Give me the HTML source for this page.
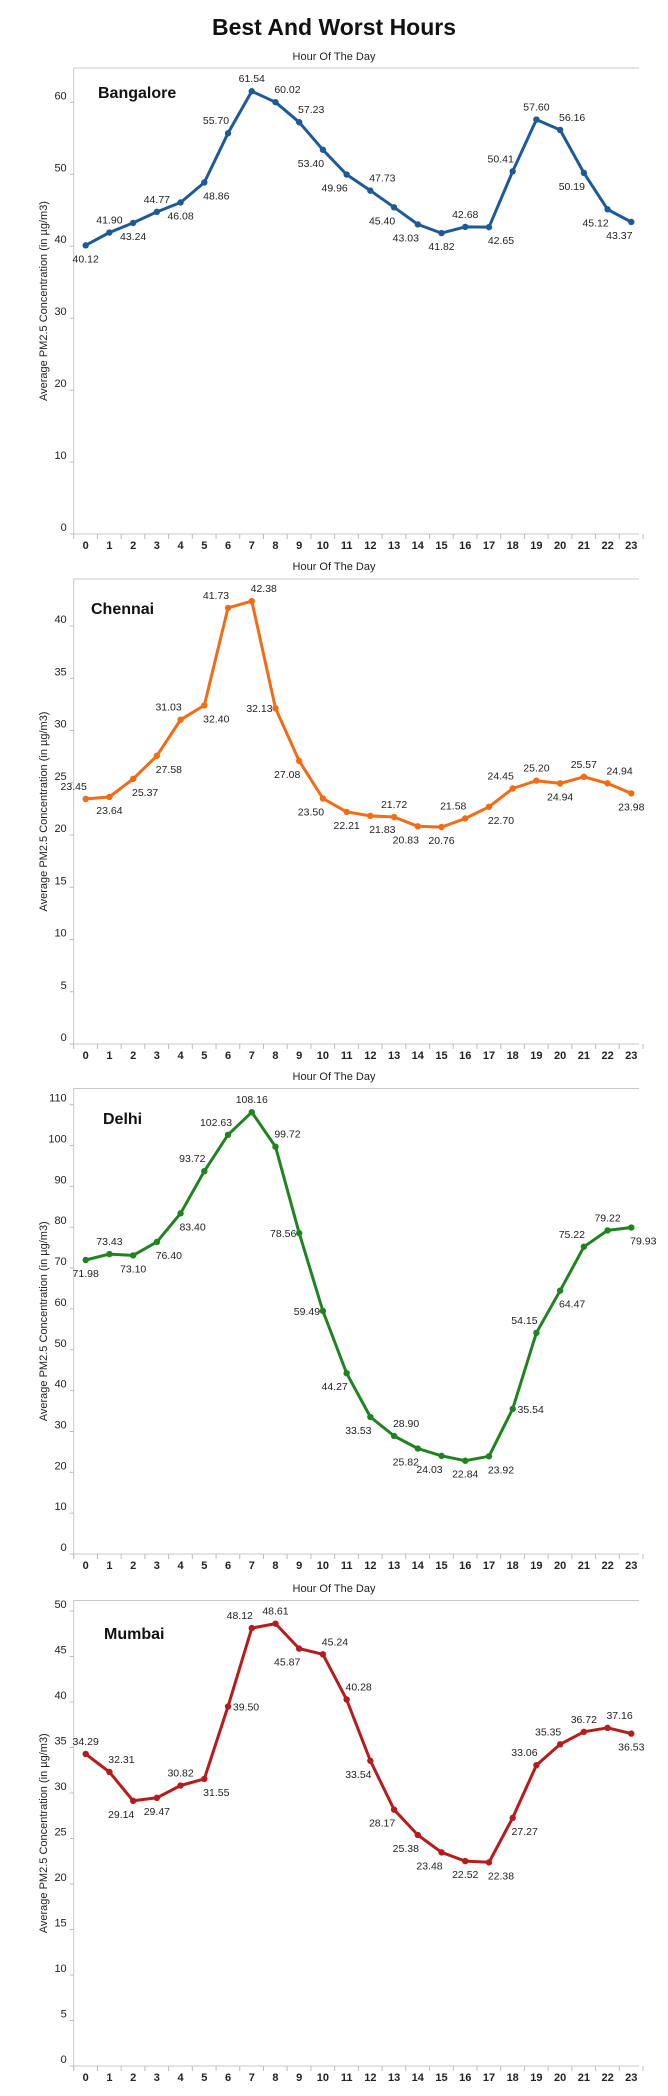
<!DOCTYPE html>
<html><head><meta charset="utf-8"><style>
html,body{margin:0;padding:0;background:#fff;}
svg{display:block;font-family:"Liberation Sans",Arial,sans-serif;}
</style></head><body>
<svg id="root" width="668" height="2096" viewBox="0 0 668 2096" xmlns="http://www.w3.org/2000/svg">
<text x="334" y="35" text-anchor="middle" font-size="23" font-weight="bold" fill="#111">Best And Worst Hours</text>
</svg>
<script>
const hours = ['0','1','2','3','4','5','6','7','8','9','10','11','12','13','14','15','16','17','18','19','20','21','22','23'];
const bangaloreValues = [40.12,41.90,43.24,44.77,46.08,48.86,55.70,61.54,60.02,57.23,53.40,49.96,47.73,45.40,43.03,41.82,42.68,42.65,50.41,57.60,56.16,50.19,45.12,43.37];
const chennaiValues = [23.45,23.64,25.37,27.58,31.03,32.40,41.73,42.38,32.13,27.08,23.50,22.21,21.83,21.72,20.83,20.76,21.58,22.70,24.45,25.20,24.94,25.57,24.94,23.98];
const delhiValues = [71.98,73.43,73.10,76.40,83.40,93.72,102.63,108.16,99.72,78.56,59.49,44.27,33.53,28.90,25.82,24.03,22.84,23.92,35.54,54.15,64.47,75.22,79.22,79.93];
const mumbaiValues = [34.29,32.31,29.14,29.47,30.82,31.55,39.50,48.12,48.61,45.87,45.24,40.28,33.54,28.17,25.38,23.48,22.52,22.38,27.27,33.06,35.35,36.72,37.16,36.53];
const bangaloreTicks = [0,10,20,30,40,50,60];
const chennaiTicks = [0,5,10,15,20,25,30,35,40];
const delhiTicks = [0,10,20,30,40,50,60,70,80,90,100,110];
const mumbaiTicks = [0,5,10,15,20,25,30,35,40,45,50];
const cityNames = ['Bangalore','Chennai','Delhi','Mumbai'];

const NS='http://www.w3.org/2000/svg';
const root=document.getElementById('root');
function mk(tag,attrs,parent){const e=document.createElementNS(NS,tag);for(const k in attrs)e.setAttribute(k,attrs[k]);(parent||root).appendChild(e);return e;}

const layouts=[
 {values:bangaloreValues,ticks:bangaloreTicks,color:'#1d5a97',top:68,axis:534,tickTopPx:102.3,hourY:60,name:{x:98,y:98},
  codes:['b','a','b','a','b','br','al','a','ar','ar','bl','bl','ar','bl','bl','b','a','br','al','a','ar','bl','bl','bl']},
 {values:chennaiValues,ticks:chennaiTicks,color:'#f36b13',top:579,axis:1044,tickTopPx:626,hourY:570,name:{x:91,y:614},
  codes:['al','b','br','br','al','br','al','ar','l','bl','bl','b','br','a','bl','b','al','br','al','a','b','a','ar','b']},
 {values:delhiValues,ticks:delhiTicks,color:'#1f841f',top:1088.5,axis:1554,tickTopPx:1104.7,hourY:1080,name:{x:103,y:1124},
  codes:['b','a','b','br','br','al','al','a','ar','l','l','bl','bl','ar','bl','bl','b','br','r','al','br','al','a','br']},
 {values:mumbaiValues,ticks:mumbaiTicks,color:'#b81b1b',top:1600.5,axis:2066,tickTopPx:1611,hourY:1592,name:{x:104,y:1639},
  codes:['a','ar','bl','b','a','br','r','al','a','bl','ar','ar','bl','bl','bl','bl','b','br','br','al','al','a','ar','b']}
];
const X0=85.7, XSTEP=(631.3-85.7)/23, LEFT=73.7, RIGHT=639;
function xScale(i){return X0+i*XSTEP;}
const off={a:[0,-9],b:[0,17],al:[-12,-9],ar:[12,-9],bl:[-12,17],br:[12,17],l:[-16,4],r:[18,4]};

layouts.forEach((L,ci)=>{
  const city=cityNames[ci].toLowerCase();
  const maxT=L.ticks[L.ticks.length-1];
  const ppu=(L.axis-L.tickTopPx)/maxT;
  const yScale=v=>L.axis-v*ppu;
  const g=mk('g',{});
  
  
  const ht=mk('text',{x:334,y:L.hourY,'text-anchor':'middle','font-size':'11',fill:'#222'},g);
  ht.textContent='Hour Of The Day';
  
  
  const fr=mk('path',{d:`M${RIGHT},${L.top}H${LEFT}V${L.axis}H${RIGHT}`,fill:'none',stroke:'#c8c8c8','stroke-width':'1'},g);
  
  
  L.ticks.forEach(t=>{
    const y=yScale(t);
    const tl=mk('line',{x1:LEFT-4,x2:LEFT,y1:y,y2:y,stroke:'#bbb'},g);
    
    
    const tt=mk('text',{x:LEFT-7,y:y-3,'text-anchor':'end','font-size':'11',fill:'#222'},g);
    tt.textContent=String(t);
    
    
  });
  for(let i=0;i<=24;i++){
    const x=LEFT+i*XSTEP;
    const sl=mk('line',{x1:x,x2:x,y1:L.axis,y2:L.axis+5,stroke:'#bbb'},g);
    
    
  }
  hours.forEach((h,i)=>{
    const t=mk('text',{x:xScale(i),y:L.axis+15,'text-anchor':'middle','font-size':'11','font-weight':'bold',fill:'#222'},g);
    t.textContent=h;
    
    
  });
  const mid=(L.top+L.axis)/2;
  const yt=mk('text',{x:0,y:0,transform:`translate(47,${mid}) rotate(-90)`,'text-anchor':'middle','font-size':'11',fill:'#222'},g);
  yt.textContent='Average PM2.5 Concentration (in µg/m3)';
  
  
  const nm=mk('text',{x:L.name.x,y:L.name.y,'font-size':'16','font-weight':'bold',fill:'#111'},g);
  nm.textContent=cityNames[ci];
  
  
  const pts=L.values.map((v,i)=>xScale(i).toFixed(1)+','+yScale(v).toFixed(1)).join(' ');
  const pl=mk('polyline',{points:pts,fill:'none',stroke:L.color,'stroke-width':'3','stroke-linejoin':'round'},g);
  
  
  L.values.forEach((v,i)=>{
    const c=mk('circle',{cx:xScale(i),cy:yScale(v),r:'3.2',fill:L.color},g);
    
    
    const o=off[L.codes[i]];
    let anchor='middle';
    const lt=mk('text',{x:xScale(i)+o[0],y:yScale(v)+o[1],'text-anchor':anchor,'font-size':'10.5',fill:'#222'},g);
    lt.textContent=v.toFixed(2);
    
    
  });
});
</script>
</body></html>
